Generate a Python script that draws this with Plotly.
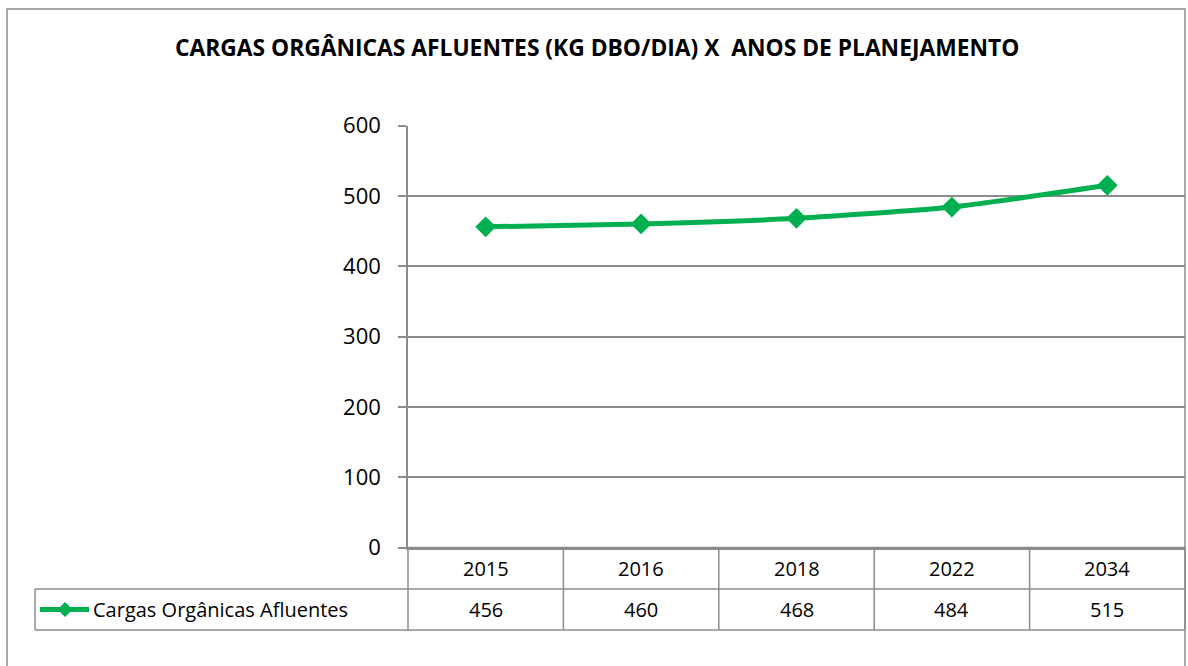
import plotly.graph_objects as go

# ---- data ----
years = ["2015", "2016", "2018", "2022", "2034"]
cargas = [456, 460, 468, 484, 515]
series_name = "Cargas Orgânicas Afluentes"
title_text = "CARGAS ORGÂNICAS AFLUENTES (KG DBO/DIA) X  ANOS DE PLANEJAMENTO"
y_ticks = [0, 100, 200, 300, 400, 500, 600]

W, H = 1188, 666
GREEN = "#00B050"
GRID = "#8C8C8C"
FONT = "Open Sans"


def px(x):
    return x / W


def py(y):
    return 1 - y / H


# plot area in pixels
L, R, T, B = 408, 1185, 125.5, 547.5
ROW1, ROW2 = 589, 630

fig = go.Figure()
fig.add_trace(go.Scatter(
    x=years, y=cargas, mode="lines+markers", name=series_name,
    line=dict(color=GREEN, width=5, shape="spline", smoothing=0.6),
    marker=dict(symbol="diamond", size=16, color=GREEN),
    showlegend=False, cliponaxis=False,
))

shapes = []
# outer chart border
shapes.append(dict(type="rect", xref="paper", yref="paper",
                   x0=px(7), x1=px(1185), y0=py(9), y1=py(720),
                   line=dict(color=GRID, width=1.5), layer="below"))
# table horizontal lines
for yy in (B, ROW1, ROW2):
    x0 = L if yy == B else 35
    shapes.append(dict(type="line", xref="paper", yref="paper",
                       x0=px(x0), x1=px(1185), y0=py(yy), y1=py(yy),
                       line=dict(color=GRID, width=1.5)))
# table vertical lines
shapes.append(dict(type="line", xref="paper", yref="paper",
                   x0=px(35), x1=px(35), y0=py(ROW1), y1=py(ROW2),
                   line=dict(color=GRID, width=1.5)))
n = len(years)
for k in range(n + 1):
    shapes.append(dict(type="line", xref="x domain", yref="paper",
                       x0=k / n, x1=k / n, y0=py(B), y1=py(ROW2),
                       line=dict(color=GRID, width=1.5)))
# legend key in table
ly = (ROW1 + ROW2) / 2
shapes.append(dict(type="line", xref="paper", yref="paper",
                   x0=px(40), x1=px(89), y0=py(ly), y1=py(ly),
                   line=dict(color=GREEN, width=5)))
cx, hw = 65, 7.5
shapes.append(dict(type="path", xref="paper", yref="paper",
                   path=(f"M {px(cx-hw)} {py(ly)} L {px(cx)} {py(ly-hw)} "
                         f"L {px(cx+hw)} {py(ly)} L {px(cx)} {py(ly+hw)} Z"),
                   fillcolor=GREEN, line=dict(color=GREEN, width=0)))

annotations = []
annotations.append(dict(text=f"<b>{title_text}</b>", xref="paper", yref="paper",
                        x=px(597), y=py(47), showarrow=False,
                        xanchor="center", yanchor="middle",
                        font=dict(family=FONT, size=22.8, color="#000000")))
for i, (yr, v) in enumerate(zip(years, cargas)):
    annotations.append(dict(text=yr, xref="x", yref="paper", x=i, y=py((B + ROW1) / 2),
                            xanchor="center", yanchor="middle",
                            showarrow=False, font=dict(family=FONT, size=20, color="#000")))
    annotations.append(dict(text=str(v), xref="x", yref="paper", x=i, y=py(ly),
                            xanchor="center", yanchor="middle",
                            showarrow=False, font=dict(family=FONT, size=20, color="#000")))
annotations.append(dict(text=series_name, xref="paper", yref="paper", x=px(91), y=py(ly),
                        xanchor="left", yanchor="middle", showarrow=False,
                        font=dict(family=FONT, size=20, color="#000")))

fig.update_layout(
    width=W, height=H, autosize=False,
    margin=dict(l=0, r=0, t=0, b=0, autoexpand=False),
    paper_bgcolor="white", plot_bgcolor="white",
    font=dict(family=FONT, size=20, color="#000"),
    xaxis=dict(domain=[px(L), px(R)], type="category", range=[-0.5, n - 0.5],
               showticklabels=False, ticks="", showgrid=False, automargin=False,
               showline=True, linecolor=GRID, linewidth=1.5, zeroline=False),
    yaxis=dict(domain=[py(B), py(T)], range=[0, 600], tickvals=y_ticks,
               showgrid=True, gridcolor=GRID, gridwidth=1.5, automargin=False,
               showline=True, linecolor=GRID, linewidth=1.5,
               ticks="outside", ticklen=8, tickcolor=GRID, tickwidth=1.5,
               ticklabelstandoff=13, zeroline=False,
               tickfont=dict(family=FONT, size=22, color="#000")),
    shapes=shapes, annotations=annotations,
)

fig.write_html("out.html", config={"displayModeBar": False},
               post_script="document.body.style.margin='0';document.body.style.overflow='hidden';")
